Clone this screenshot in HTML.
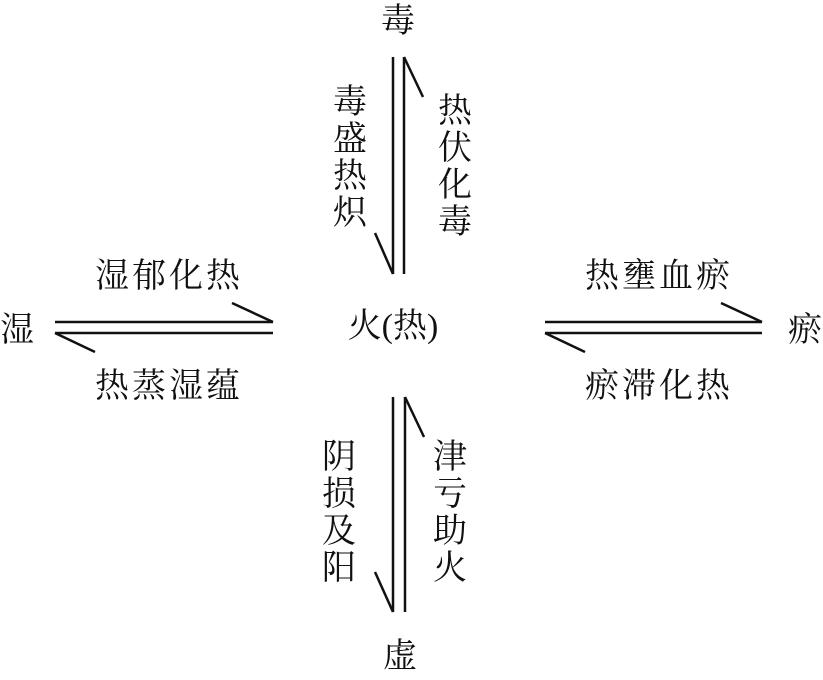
<!DOCTYPE html>
<html><head><meta charset="utf-8"><style>
html,body{margin:0;padding:0;background:#fff;}
svg text{font-family:"Liberation Serif","Noto Serif CJK SC",serif;font-size:34px;fill:#111;}
</style></head><body>
<svg width="823" height="675" viewBox="0 0 823 675" xmlns="http://www.w3.org/2000/svg">
<g stroke="#111" stroke-width="2.5" fill="none">
<!-- top vertical -->
<line x1="393" y1="57" x2="393" y2="274"/><line x1="375" y1="233" x2="393" y2="274"/>
<line x1="404" y1="57" x2="404" y2="274"/><line x1="404" y1="57" x2="423" y2="97"/>
<!-- bottom vertical -->
<line x1="393" y1="397" x2="393" y2="612"/><line x1="375" y1="572" x2="393" y2="612"/>
<line x1="405" y1="397" x2="405" y2="612"/><line x1="405" y1="397" x2="424" y2="437"/>
<!-- left horizontal -->
<line x1="55" y1="322" x2="273" y2="322"/><line x1="232" y1="303" x2="273" y2="322"/>
<line x1="55" y1="333" x2="273" y2="333"/><line x1="55" y1="333" x2="95" y2="352"/>
<!-- right horizontal -->
<line x1="545" y1="322" x2="762" y2="322"/><line x1="721" y1="303" x2="762" y2="322"/>
<line x1="545" y1="333" x2="762" y2="333"/><line x1="545" y1="333" x2="585" y2="352"/>
</g>
<text x="398" y="32" text-anchor="middle">毒</text>
<text x="400" y="667" text-anchor="middle">虚</text>
<text x="0" y="341">湿</text>
<text x="788" y="341">瘀</text>
<text x="393" y="337" text-anchor="middle">火(热)</text>
<text x="95" y="287" textLength="145">湿郁化热</text>
<text x="95" y="397" textLength="145">热蒸湿蕴</text>
<text x="585" y="287" textLength="145">热壅血瘀</text>
<text x="585" y="397" textLength="145">瘀滞化热</text>
<g text-anchor="middle">
<text x="350" y="113">毒</text><text x="350" y="150">盛</text><text x="350" y="187">热</text><text x="350" y="224">炽</text>
<text x="455" y="122">热</text><text x="455" y="159">伏</text><text x="455" y="196">化</text><text x="455" y="233">毒</text>
<text x="339" y="468">阴</text><text x="339" y="505">损</text><text x="339" y="542">及</text><text x="339" y="579">阳</text>
<text x="450" y="468">津</text><text x="450" y="505">亏</text><text x="450" y="542">助</text><text x="450" y="579">火</text>
</g>
</svg>
</body></html>
